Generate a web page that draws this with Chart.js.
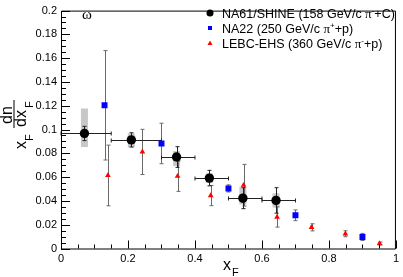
<!DOCTYPE html>
<html>
<head>
<meta charset="utf-8">
<script src="https://cdn.jsdelivr.net/npm/chart.js@4.4.1/dist/chart.umd.min.js"></script>
<style>
  html, body { margin: 0; padding: 0; background: #fff; }
  #wrap { width: 403px; height: 277px; }
</style>
</head>
<body>
<div id="wrap"><canvas id="myChart"></canvas></div>
<script>
// NA61/SHINE 158 GeV/c pi- + C
let na61X = [0.07, 0.21, 0.345, 0.443, 0.543, 0.642]
let na61Y = [0.0967, 0.0913, 0.0769, 0.0592, 0.0423, 0.0404]
let na61Err = [0.006, 0.006, 0.0087, 0.0065, 0.0088, 0.0107]
let na61XLo = [0, 0.15, 0.3, 0.4, 0.5, 0.6]
let na61XHi = [0.15, 0.3, 0.4, 0.5, 0.6, 0.7]
let na61SysUp = [0.021, 0.0055, 0.005, 0.004, 0.0095, 0.006]
let na61SysDn = [0.0114, 0.0063, 0.0075, 0.004, 0.0054, 0.006]

// NA22 250 GeV/c pi+ + p
let na22X = [0.13, 0.3, 0.5, 0.7, 0.9]
let na22Y = [0.1204, 0.0883, 0.0505, 0.0279, 0.0097]
let na22Err = [0.046, 0.017, 0.003, 0.0045, 0.003]

// LEBC-EHS 360 GeV/c pi- + p
let lebcX = [0.14, 0.243, 0.348, 0.447, 0.545, 0.645, 0.748, 0.849, 0.951]
let lebcY = [0.0614, 0.0812, 0.0608, 0.0445, 0.0532, 0.0265, 0.0178, 0.0124, 0.0042]
let lebcErr = [0.0255, 0.019, 0.0128, 0.0085, 0.0175, 0.0085, 0.003, 0.0025, 0.0012]

let yTicks = [0, 0.02, 0.04, 0.06, 0.08, 0.1, 0.12, 0.14, 0.16, 0.18, 0.2]
let xTicks = [0, 0.2, 0.4, 0.6, 0.8, 1]

const sans = "'Liberation Sans', Arial, sans-serif"
const serif = "'Liberation Serif', 'DejaVu Serif', serif"

const toPts = (xs, ys) => xs.map((x, i) => ({ x: x, y: ys[i] }))

// error bars, sys boxes, inner ticks, frame, titles, legend
const rootStyle = {
  id: 'rootStyle',
  beforeDatasetsDraw(chart) {
    const ctx = chart.ctx, sx = chart.scales.x, sy = chart.scales.y
    ctx.save()
    // sys boxes
    ctx.fillStyle = '#c8c8c8'
    na61X.forEach((x, i) => {
      const px = sx.getPixelForValue(x)
      const top = sy.getPixelForValue(na61Y[i] + na61SysUp[i])
      const bot = sy.getPixelForValue(na61Y[i] - na61SysDn[i])
      ctx.fillRect(px - 3.5, top, 7, bot - top)
    })
    const vbar = (x, y, e, col) => {
      const px = Math.round(sx.getPixelForValue(x)) + 0.5
      const t = sy.getPixelForValue(y + e), b = sy.getPixelForValue(y - e)
      ctx.strokeStyle = col
      ctx.beginPath()
      ctx.moveTo(px, t); ctx.lineTo(px, b)
      ctx.moveTo(px - 2, t); ctx.lineTo(px + 2, t)
      ctx.moveTo(px - 2, b); ctx.lineTo(px + 2, b)
      ctx.stroke()
    }
    ctx.lineWidth = 1
    lebcX.forEach((x, i) => vbar(x, lebcY[i], lebcErr[i], '#6a6a6a'))
    na22X.forEach((x, i) => vbar(x, na22Y[i], na22Err[i], '#6a6a6a'))
    na61X.forEach((x, i) => {
      vbar(x, na61Y[i], na61Err[i], '#222')
      const py = Math.round(sy.getPixelForValue(na61Y[i])) + 0.5
      const l = sx.getPixelForValue(na61XLo[i]), r = sx.getPixelForValue(na61XHi[i])
      ctx.beginPath()
      ctx.moveTo(l, py); ctx.lineTo(r, py)
      ctx.moveTo(l, py - 2); ctx.lineTo(l, py + 2)
      ctx.moveTo(r, py - 2); ctx.lineTo(r, py + 2)
      ctx.stroke()
    })
    ctx.restore()
  },
  afterDraw(chart) {
    const ctx = chart.ctx, sx = chart.scales.x, sy = chart.scales.y
    const a = chart.chartArea
    ctx.save()
    ctx.strokeStyle = '#000'
    ctx.lineWidth = 1
    ctx.beginPath()
    ctx.rect(a.left + 0.5, a.top + 0.5, a.right - a.left - 1, a.bottom - a.top)
    ctx.stroke()
    // inner ticks
    ctx.beginPath()
    for (let k = 0; k <= 40; k++) {
      const py = Math.round(sy.getPixelForValue(k * 0.005)) + 0.5
      const len = k % 4 === 0 ? 9 : 5
      ctx.moveTo(a.left, py); ctx.lineTo(a.left + len, py)
    }
    for (let k = 0; k <= 20; k++) {
      const px = Math.round(sx.getPixelForValue(k * 0.05)) + 0.5
      const len = k % 4 === 0 ? 8 : 4
      ctx.moveTo(px, a.bottom); ctx.lineTo(px, a.bottom - len)
    }
    ctx.stroke()

    ctx.fillStyle = '#000'
    ctx.textBaseline = 'alphabetic'
    // x title
    ctx.font = '16px ' + sans
    ctx.textAlign = 'left'
    ctx.fillText('x', 223, 270)
    ctx.font = '11px ' + sans
    ctx.fillText('F', 232, 276)

    // y title, rotated
    ctx.save()
    ctx.rotate(-Math.PI / 2)
    // rotated coords: (u, v) -> screen (v, -u)
    ctx.font = '16px ' + sans
    ctx.fillText('x', -149, 26)
    ctx.font = '11px ' + sans
    ctx.fillText('F', -141, 33)
    ctx.font = '16px ' + sans
    ctx.fillText('dn', -124, 12)
    ctx.fillText('dx', -127, 26)
    ctx.font = '11px ' + sans
    ctx.fillText('F', -108, 33)
    ctx.fillRect(-128, 13.5, 28, 1)
    ctx.restore()

    // omega
    ctx.font = '15px ' + serif
    ctx.fillText('\u03c9', 82, 19)

    // legend
    const rows = [
      { y: 13, pre: 'NA61/SHINE (158 GeV/c ', sup: '-', post: '+C)', ds: 0 },
      { y: 28, pre: 'NA22 (250 GeV/c ', sup: '+', post: '+p)', ds: 1 },
      { y: 43, pre: 'LEBC-EHS (360 GeV/c ', sup: '-', post: '+p)', ds: 2 }
    ]
    rows.forEach(r => {
      const ds = chart.data.datasets[r.ds]
      ctx.fillStyle = ds.backgroundColor
      if (r.ds === 0) {
        ctx.beginPath(); ctx.arc(210, r.y, 3.5, 0, Math.PI * 2); ctx.fill()
      } else if (r.ds === 1) {
        ctx.fillRect(208, r.y - 2, 4, 4)
      } else {
        ctx.beginPath(); ctx.moveTo(210, r.y - 2.5); ctx.lineTo(212.5, r.y + 2); ctx.lineTo(207.5, r.y + 2); ctx.closePath(); ctx.fill()
      }
      ctx.fillStyle = '#000'
      let x = 222
      const base = r.y + 4.5
      ctx.font = '12.5px ' + sans
      ctx.fillText(r.pre, x, base); x += ctx.measureText(r.pre).width
      ctx.font = '13px ' + serif
      ctx.fillText('\u03c0', x, base); x += ctx.measureText('\u03c0').width
      ctx.font = '8px ' + sans
      ctx.fillText(r.sup, x, base - 5); x += ctx.measureText(r.sup).width
      ctx.font = '12.5px ' + sans
      ctx.fillText(r.post, x, base)
    })
    ctx.restore()
  }
}

const data = {
  datasets: [
    {
      label: 'NA61/SHINE (158 GeV/c \u03c0\u207b+C)',
      data: toPts(na61X, na61Y),
      backgroundColor: '#000',
      borderColor: '#000',
      borderWidth: 0,
      pointStyle: 'circle',
      pointRadius: 4.7,
      pointHoverRadius: 4.7
    },
    {
      label: 'NA22 (250 GeV/c \u03c0\u207a+p)',
      data: toPts(na22X, na22Y),
      backgroundColor: '#0000ff',
      borderColor: '#0000ff',
      borderWidth: 0,
      pointStyle: 'rect',
      pointRadius: 4.2,
      pointHoverRadius: 4.2
    },
    {
      label: 'LEBC-EHS (360 GeV/c \u03c0\u207b+p)',
      data: toPts(lebcX, lebcY),
      backgroundColor: '#ff0000',
      borderColor: '#ff0000',
      borderWidth: 0,
      pointStyle: 'triangle',
      pointRadius: 3.3,
      pointHoverRadius: 3.3
    }
  ]
}

const config = {
  type: 'scatter',
  data: data,
  options: {
    responsive: true,
    maintainAspectRatio: false,
    animation: false,
    layout: { padding: { top: 4, right: 2, left: 0, bottom: 0 } },
    plugins: { legend: { display: false }, tooltip: { enabled: false } },
    scales: {
      x: {
        min: 0, max: 1,
        afterFit: s => { s.height = 28.5 },
        afterBuildTicks: s => { s.ticks = xTicks.map(v => ({ value: v })) },
        grid: { display: false, drawTicks: false },
        border: { display: false },
        ticks: {
          padding: 4,
          color: '#000',
          font: { family: sans, size: 11 },
          maxRotation: 0,
          callback: v => String(Number(v.toFixed(2)))
        }
      },
      y: {
        min: 0, max: 0.2,
        afterFit: s => { s.width = 61 },
        afterBuildTicks: s => { s.ticks = yTicks.map(v => ({ value: v })) },
        grid: { display: false, drawTicks: false },
        border: { display: false },
        ticks: {
          padding: 4,
          color: '#000',
          font: { family: sans, size: 11 },
          callback: v => String(Number(v.toFixed(2)))
        }
      }
    }
  },
  plugins: [rootStyle]
}

const myChart = new Chart(document.getElementById('myChart'), config)
</script>
</body>
</html>
